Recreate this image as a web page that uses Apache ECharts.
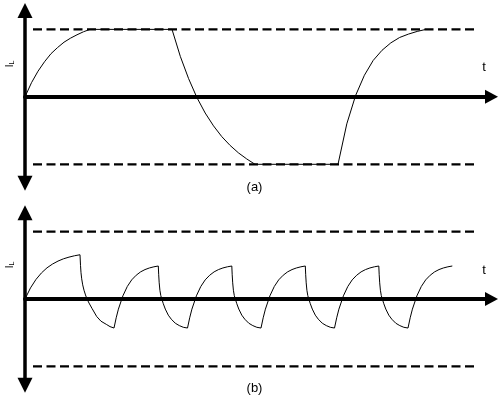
<!DOCTYPE html>
<html>
<head>
<meta charset="utf-8">
<script src="https://cdn.jsdelivr.net/npm/echarts@6/dist/echarts.min.js"></script>
<style>
html,body{margin:0;padding:0;background:#fff;}
#chart{width:498px;height:396px;}
</style>
</head>
<body>
<div id="chart"></div>
<script>
// ---- data ----
// panel (a): inductor current, saturating between the limits
var aTime = [
  0, 0.65, 1.3, 1.95, 2.6, 3.25, 3.9, 4.55, 5.2, 5.85, 6.5,
  14.7, 15.53, 16.36, 17.19, 18.02, 18.85, 19.68, 20.51, 21.34, 22.17, 23.0,
  31.3, 32.18, 33.06, 33.94, 34.82, 35.7, 36.58, 37.46, 38.34, 39.22, 40.1
];
var aCurrent = [
  0, 0.21, 0.38, 0.52, 0.64, 0.73, 0.81, 0.87, 0.92, 0.965, 1,
  1, 0.6, 0.27, -0.01, -0.24, -0.43, -0.59, -0.72, -0.83, -0.92, -1,
  -1, -0.4, 0.02, 0.32, 0.54, 0.69, 0.8, 0.88, 0.93, 0.97, 1
];
// panel (b): inductor current, switching before reaching the limits
var bTime = [
  0, 0.55, 1.1, 1.65, 2.2, 2.75, 3.3, 3.85, 4.4, 4.95, 5.5,
  5.55, 5.6, 5.67, 5.77, 5.9, 6.05, 6.2, 6.4, 6.7, 7.17, 7.6, 8.17, 8.5, 8.9,
  9.12, 9.34, 9.79, 10.23, 10.67, 11.12, 11.56, 12.0, 12.44, 12.89, 13.33,
  13.37, 13.42, 13.49, 13.58, 13.68, 13.83, 14.03, 14.33, 14.63, 15.03, 15.43, 15.83, 16.25,
  16.47, 16.69, 17.14, 17.58, 18.02, 18.47, 18.91, 19.35, 19.79, 20.24, 20.68,
  20.72, 20.77, 20.84, 20.93, 21.03, 21.18, 21.38, 21.68, 21.98, 22.38, 22.78, 23.18, 23.6,
  23.82, 24.04, 24.49, 24.93, 25.37, 25.82, 26.26, 26.7, 27.14, 27.59, 28.03,
  28.07, 28.12, 28.19, 28.28, 28.38, 28.53, 28.73, 29.03, 29.33, 29.73, 30.13, 30.53, 30.95,
  31.17, 31.39, 31.84, 32.28, 32.72, 33.17, 33.61, 34.05, 34.49, 34.94, 35.38,
  35.42, 35.47, 35.54, 35.63, 35.73, 35.88, 36.08, 36.38, 36.68, 37.08, 37.48, 37.88, 38.3,
  38.52, 38.74, 39.19, 39.63, 40.07, 40.52, 40.96, 41.4, 41.84, 42.29, 42.73
];
var bCurrent = [
  0, 0.165, 0.291, 0.388, 0.463, 0.519, 0.563, 0.597, 0.622, 0.642, 0.657,
  0.5, 0.39, 0.3, 0.21, 0.13, 0.06, 0, -0.06, -0.14, -0.26, -0.33, -0.38, -0.41, -0.431,
  -0.279, -0.151, 0.047, 0.186, 0.284, 0.353, 0.403, 0.437, 0.461, 0.478, 0.49,
  0.36, 0.24, 0.13, 0.05, 0, -0.07, -0.15, -0.24, -0.3, -0.36, -0.395, -0.42, -0.431,
  -0.279, -0.151, 0.047, 0.186, 0.284, 0.353, 0.403, 0.437, 0.461, 0.478, 0.49,
  0.36, 0.24, 0.13, 0.05, 0, -0.07, -0.15, -0.24, -0.3, -0.36, -0.395, -0.42, -0.431,
  -0.279, -0.151, 0.047, 0.186, 0.284, 0.353, 0.403, 0.437, 0.461, 0.478, 0.49,
  0.36, 0.24, 0.13, 0.05, 0, -0.07, -0.15, -0.24, -0.3, -0.36, -0.395, -0.42, -0.431,
  -0.279, -0.151, 0.047, 0.186, 0.284, 0.353, 0.403, 0.437, 0.461, 0.478, 0.49,
  0.36, 0.24, 0.13, 0.05, 0, -0.07, -0.15, -0.24, -0.3, -0.36, -0.395, -0.42, -0.431,
  -0.279, -0.151, 0.047, 0.186, 0.284, 0.353, 0.403, 0.437, 0.461, 0.478, 0.49
];
var limitLevels = [1, -1];
var limitSpan = [0.8, 45.0];
var timeRange = [0, 46.65];
var currentRange = [-1.28, 1.28];
var panelLabels = ['(a)', '(b)'];
var axisNames = { current: 'I', currentSub: 'L', time: 't' };

// ---- build chart ----
function zip(xs, ys) {
  var out = [];
  for (var i = 0; i < xs.length; i++) out.push([xs[i], ys[i]]);
  return out;
}
var FONT = 'Liberation Sans, Arial, sans-serif';

function xAxisFor(idx) {
  return {
    type: 'value', gridIndex: idx, min: timeRange[0], max: timeRange[1],
    axisLine: { show: true, onZero: true, symbol: ['none', 'triangle'], symbolSize: [14, 13],
      lineStyle: { color: '#000', width: 4 } },
    axisTick: { show: false }, axisLabel: { show: false }, splitLine: { show: false }
  };
}
function yAxisFor(idx) {
  return {
    type: 'value', gridIndex: idx, min: currentRange[0], max: currentRange[1],
    axisLine: { show: true, onZero: true, symbol: ['triangle', 'triangle'], symbolSize: [15, 15],
      lineStyle: { color: '#000', width: 3.5 } },
    axisTick: { show: false }, axisLabel: { show: false }, splitLine: { show: false }
  };
}
var series = [];
[ [aTime, aCurrent], [bTime, bCurrent] ].forEach(function (p, idx) {
  limitLevels.forEach(function (lv) {
    series.push({
      type: 'line', xAxisIndex: idx, yAxisIndex: idx, silent: true,
      data: [[limitSpan[0], lv], [limitSpan[1], lv]],
      showSymbol: false, symbol: 'none',
      lineStyle: { color: '#000', width: 2.3, type: [9, 4.5] }
    });
  });
  series.push({
    type: 'line', xAxisIndex: idx, yAxisIndex: idx, silent: true,
    data: zip(p[0], p[1]), showSymbol: false, symbol: 'none', smooth: false,
    lineStyle: { color: '#000', width: 1 }
  });
});

function currentLabel(x, y) {
  return {
    type: 'text', x: x, y: y, rotation: Math.PI / 2, silent: true,
    style: {
      text: '{m|' + axisNames.current + '}{s|' + axisNames.currentSub + '}',
      align: 'center', verticalAlign: 'middle', fill: '#000',
      rich: {
        m: { fontSize: 10, fontFamily: FONT, fill: '#000', verticalAlign: 'bottom', lineHeight: 11 },
        s: { fontSize: 7, fontFamily: FONT, fill: '#000', verticalAlign: 'bottom', lineHeight: 10 }
      }
    }
  };
}
function plainText(x, y, txt, size) {
  return {
    type: 'text', x: x, y: y, silent: true,
    style: { text: txt, fontSize: size, fontFamily: FONT, fill: '#000', align: 'center', verticalAlign: 'middle' }
  };
}

var chart = echarts.init(document.getElementById('chart'), null, { renderer: 'canvas' });
chart.setOption({
  animation: false,
  backgroundColor: '#fff',
  grid: [
    { left: 25, top: 10.5, width: 466.5, height: 172.7 },
    { left: 25, top: 212.8, width: 466.5, height: 172.4 }
  ],
  xAxis: [xAxisFor(0), xAxisFor(1)],
  yAxis: [yAxisFor(0), yAxisFor(1)],
  series: series,
  graphic: [
    currentLabel(10, 64),
    currentLabel(10, 265),
    plainText(484, 67, axisNames.time, 13),
    plainText(484, 270.5, axisNames.time, 13),
    plainText(254.5, 187.5, panelLabels[0], 13),
    plainText(254.5, 388, panelLabels[1], 13)
  ]
});
</script>
</body>
</html>
